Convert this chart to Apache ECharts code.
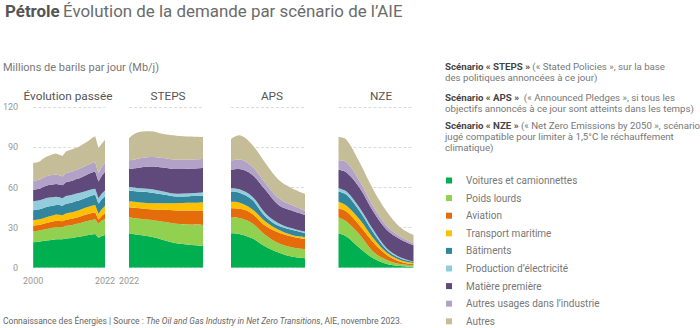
<!DOCTYPE html>
<html><head><meta charset="utf-8">
<script src="https://cdn.jsdelivr.net/npm/echarts@6/dist/echarts.min.js"></script>
<style>html,body{margin:0;padding:0;background:#fff}#c{width:700px;height:328px}</style>
</head><body><div id="c"></div>
<script>
// ---------- DATA ----------
const seriesNames = ['Voitures et camionnettes','Poids lourds','Aviation','Transport maritime','Bâtiments','Production d\u2019électricité','Matière première','Autres usages dans l\u2019industrie','Autres'];
const panelTitles = ['Évolution passée','STEPS','APS','NZE'];
const histYears = ['2000','2001','2002','2003','2004','2005','2006','2007','2008','2009','2010','2011','2012','2013','2014','2015','2016','2017','2018','2019','2020','2021','2022'];
const histTickLabels = ['2000','2022'];
const projYears = [2022, 2025, 2030, 2035, 2040, 2045, 2050];
const stepsTickLabels = [2022];
const apsTickLabels = [2022, 2050];
const nzeTickLabels = [2022, 2050];
const yTicks = [0, 30, 60, 90, 120];

const histCars      = [19,19.3,19.6,19.9,20.3,20.6,20.9,21.2,21.2,21.3,21.8,22,22.3,22.7,23.1,23.6,24.1,24.5,24.9,25.2,22.4,23.8,24.5];
const histTrucks    = [8,8.1,8.2,8.4,8.6,8.8,9,9.2,9.2,9,9.5,9.6,9.7,9.9,10,10.2,10.4,10.6,10.8,11,10.5,11.5,12];
const histAviation  = [4.5,4.4,4.4,4.4,4.5,4.6,4.6,4.7,4.6,4.5,4.6,4.7,4.7,4.8,4.9,5,5.1,5.2,5.3,5.3,3,3.5,4.2];
const histMaritime  = [4,4,4.1,4.2,4.4,4.5,4.6,4.7,4.7,4.5,4.7,4.8,4.8,4.9,5,5.1,5.2,5.3,5.4,5.4,4.5,5,5.5];
const histBuildings = [7.5,7.5,7.4,7.6,7.6,7.5,7.3,7.2,7.2,7.1,7.3,7.2,7.2,7.4,7.3,7.3,7.4,7.5,7.6,7.6,7.5,7.4,7.2];
const histPower     = [6.8,6.8,6.7,6.8,6.7,6.6,6.3,6,5.8,5.6,5.8,5.8,5.8,5.6,5.5,5.3,5,4.9,4.7,4.6,4,4.3,4.3];
const histFeedstock = [8.3,8.5,8.7,9,9.3,9.5,9.6,9.7,9.5,9.6,10.2,10.3,10.5,10.8,11,11.4,11.8,12.2,12.6,12.8,12.5,13.3,14];
const histOtherInd  = [6.8,6.8,6.8,7,7,7.1,7.1,7.1,6.9,6.7,7,7,7,7,7,7,7,7,7,7,6.3,6.6,6.8];
const histOther     = [13.4,13.3,13.6,14.2,14.6,14.8,15.4,15.7,15.4,15.2,16.1,16.4,16.6,16.4,16.7,17.1,17.5,17.8,18.7,19.4,18.8,17.4,17.3];

const stepsCars      = [25.8,24.8,23.3,20.8,18.3,17.2,16.3];
const stepsTrucks    = [11.7,12,12.5,13.5,14.5,15.1,15.7];
const stepsAviation  = [7.8,7.9,8,9,10,10.4,10.8];
const stepsMaritime  = [4.2,4.3,4.5,5,5.5,5.8,6];
const stepsBuildings = [8,8,8,6.5,5,5,5];
const stepsPower     = [2.8,2.6,2.5,2.2,2,2.2,2.5];
const stepsFeedstock = [13.5,15,17,18,18.5,18.3,18.2];
const stepsOtherInd  = [6.5,6.8,7,7,7,6.9,6.8];
const stepsOther     = [16.7,19.6,19.2,18,18,17.3,16.5];

const apsCars      = [25.8,25.3,22,15.8,11.3,8.3,7];
const apsTrucks    = [11.7,11.8,11.3,8.7,7,7,6.8];
const apsAviation  = [7,7.1,7,6.8,8,8,7.5];
const apsMaritime  = [4.8,4.6,3.5,3.2,2,1.2,1.5];
const apsBuildings = [7.7,7.5,7,3.8,3,3.8,3];
const apsPower     = [2.5,2.5,2.5,2.5,2,1.2,1.2];
const apsFeedstock = [13.8,15,16.2,17.5,13.7,13.3,12.5];
const apsOtherInd  = [7,7.2,6.3,5,5,4.2,3.3];
const apsOther     = [16,18,16.2,15,13.8,12.5,12.5];

const nzeCars      = [25.8,23.3,14.5,7,2.8,1.3,0.8];
const nzeTrucks    = [11.7,11.2,10,5,3,1.5,1];
const nzeAviation  = [7,7.5,6.8,6.8,3.7,1.7,1];
const nzeMaritime  = [4.8,4.3,4.5,3.2,1.8,1.3,0.7];
const nzeBuildings = [7.7,8.2,6.2,4.3,2,1.2,0.8];
const nzePower     = [2.5,2.5,2.5,2,1.2,0.8,0.2];
const nzeFeedstock = [13.8,14.3,15,13.7,13.8,13.5,12.3];
const nzeOtherInd  = [7,7.5,5,3.8,3,2,1.5];
const nzeOther     = [17.5,17,13.8,12.5,10.7,7,6.2];

// ---------- STYLE ----------
const colors = ['#00b050','#92d050','#e46c0a','#ffc000','#31859c','#93cddd','#604a7b','#b3a2c7','#c4bd97'];
const FONT = 'Roboto, "Noto Sans", sans-serif';

const panels = [
  {layers:[histCars,histTrucks,histAviation,histMaritime,histBuildings,histPower,histFeedstock,histOtherInd,histOther], smooth:false},
  {layers:[stepsCars,stepsTrucks,stepsAviation,stepsMaritime,stepsBuildings,stepsPower,stepsFeedstock,stepsOtherInd,stepsOther], smooth:true},
  {layers:[apsCars,apsTrucks,apsAviation,apsMaritime,apsBuildings,apsPower,apsFeedstock,apsOtherInd,apsOther], smooth:true},
  {layers:[nzeCars,nzeTrucks,nzeAviation,nzeMaritime,nzeBuildings,nzePower,nzeFeedstock,nzeOtherInd,nzeOther], smooth:true}
];
const gridBoxes = [
  {left:31, width:74}, {left:129, width:74}, {left:231, width:74}, {left:338.5, width:75}
];
const projTickSets = [null, stepsTickLabels, apsTickLabels, nzeTickLabels];

const grids = gridBoxes.map(g => ({left:g.left, width:g.width, top:107.3, height:160.4}));
const xAxes = gridBoxes.map((g,i) => {
  const common = {gridIndex:i, axisLine:{show:false}, axisTick:{show:false}, splitLine:{show:false},
    axisLabel:{color:'#999', fontSize:9, fontFamily:FONT, margin:9}};
  if (i === 0) {
    return Object.assign(common, {type:'category', data:histYears, boundaryGap:false,
      axisLabel:Object.assign(common.axisLabel, {interval:(idx, v) => histTickLabels.indexOf(v) >= 0})});
  }
  const ticks = projTickSets[i];
  return Object.assign(common, {type:'value', min:projYears[0], max:projYears[projYears.length-1],
    axisLabel:Object.assign(common.axisLabel, {customValues:ticks, showMinLabel:false, showMaxLabel:false,
      formatter:v => ticks.indexOf(v) >= 0 ? String(v) : ''})});
});
const yAxes = gridBoxes.map((g,i) => ({
  gridIndex:i, type:'value', min:yTicks[0], max:yTicks[yTicks.length-1], interval:yTicks[1]-yTicks[0],
  axisLine:{show:false}, axisTick:{show:false},
  splitLine:{show:true, lineStyle:{color:'#dcdcdc', type:[3,2], width:1}},
  axisLabel:{show:i===0, color:'#999', fontSize:9, fontFamily:FONT, margin:15}
}));

const series = [];
panels.forEach((p, pi) => {
  p.layers.forEach((vals, li) => {
    const s = {
      name:seriesNames[li], type:'line', xAxisIndex:pi, yAxisIndex:pi, stack:'s'+pi,
      smooth:p.smooth ? 0.35 : false, symbol:'none', showSymbol:false,
      lineStyle:{width:0}, areaStyle:{color:colors[li], opacity:1}, itemStyle:{color:colors[li]},
      emphasis:{disabled:true}, silent:true
    };
    if (pi === 0) {
      s.data = vals;
    } else {
      // value first so that the stacked dimension is the y value, year second mapped to x
      s.dimensions = [{name:'v', type:'float'}, {name:'year', type:'float'}];
      s.encode = {x:1, y:0};
      s.data = vals.map((v, k) => [v, projYears[k]]);
    }
    series.push(s);
  });
});

const titleX = [68, 168, 272, 381];
const graphics = [
  {type:'text', left:5, top:2, style:{text:'{b|Pétrole} {r|Évolution de la demande par scénario de l\u2019AIE}',
    rich:{b:{fontFamily:FONT, fontSize:16.9, fontWeight:'bold', fill:'#555'}, r:{fontFamily:FONT, fontSize:16.9, fill:'#6b6b6b'}}}},
  {type:'text', left:3, top:62, style:{text:'Millions de barils par jour (Mb/j)', fontFamily:FONT, fontSize:11, fill:'#777'}},
  {type:'text', left:3, top:316, style:{text:'Connaissance des Énergies | Source : {i|The Oil and Gas Industry in Net Zero Transitions}, AIE, novembre 2023.',
    fontFamily:FONT, fontSize:8.5, fill:'#666', rich:{i:{fontFamily:FONT, fontSize:8.5, fontStyle:'italic', fill:'#666'}}}}
];
panelTitles.forEach((t, i) => {
  graphics.push({type:'text', x:titleX[i], y:96, style:{text:t, fontFamily:FONT, fontSize:11.8, fill:'#555', align:'center', verticalAlign:'middle'}});
});
const noteLines = [
  ['Scénario « STEPS »', ' (« Stated Policies », sur la base', 66],
  ['', 'des politiques annoncées à ce jour)', 77],
  ['Scénario « APS »', '  (« Announced Pledges », si tous les', 97],
  ['', 'objectifs annoncés à ce jour sont atteints dans les temps)', 108],
  ['Scénario « NZE »', ' (« Net Zero Emissions by 2050 », scénario', 125],
  ['', 'jugé compatible pour limiter à 1,5°C le réchauffement', 136],
  ['', 'climatique)', 147]
];
noteLines.forEach(l => {
  graphics.push({type:'text', x:445, y:l[2], style:{
    text:(l[0] ? '{b|' + l[0] + '}' : '') + '{r|' + l[1] + '}', verticalAlign:'middle',
    rich:{b:{fontFamily:FONT, fontSize:9.7, fontWeight:'bold', fill:'#444'}, r:{fontFamily:FONT, fontSize:9.7, fill:'#777'}}}});
});

const chart = echarts.init(document.getElementById('c'), null, {renderer:'svg', width:700, height:328});
chart.setOption({
  animation:false,
  backgroundColor:'#fff',
  grid:grids, xAxis:xAxes, yAxis:yAxes, series:series,
  legend:{orient:'vertical', left:446, top:174.5, bottom:0, icon:'rect', itemWidth:6, itemHeight:6, itemGap:5.6,
    selectedMode:false, data:seriesNames, padding:0,
    textStyle:{fontFamily:FONT, fontSize:10, color:'#777', lineHeight:12, padding:[0,0,0,9]}},
  graphic:graphics
});
</script></body></html>
